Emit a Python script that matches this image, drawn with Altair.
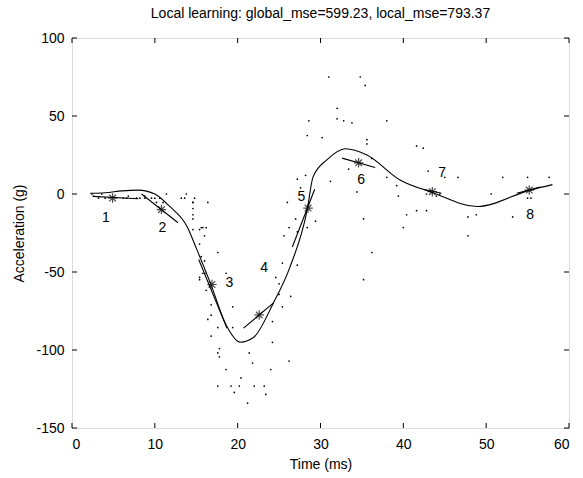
import altair as alt
import pandas as pd

# scatter data (time ms, acceleration g)
times = [2.4,2.6,3.2,3.6,4.0,6.2,6.6,6.8,7.8,8.2,8.8,8.8,9.6,10.0,10.2,10.6,11.0,11.4,13.2,13.6,13.8,14.6,14.6,14.6,14.6,14.6,14.6,14.8,15.4,15.4,15.4,15.4,15.6,15.6,15.8,15.8,16.0,16.0,16.2,16.2,16.2,16.4,16.4,16.6,16.8,16.8,16.8,17.6,17.6,17.6,17.6,17.8,17.8,18.6,18.6,19.2,19.4,19.4,19.6,20.2,20.4,21.2,21.4,21.8,22.0,23.2,23.4,24.0,24.2,24.2,24.6,25.0,25.0,25.4,25.4,25.6,26.0,26.2,26.2,26.4,27.0,27.2,27.2,27.2,27.6,28.2,28.4,28.4,28.6,29.4,30.2,31.0,31.2,32.0,32.0,32.8,33.4,33.8,34.4,34.8,35.2,35.2,35.4,35.6,35.6,36.2,36.2,38.0,38.0,39.2,39.4,40.0,40.4,41.6,41.6,42.4,42.8,42.8,43.0,44.0,44.4,45.0,46.6,47.8,47.8,48.8,50.6,52.0,53.2,55.0,55.0,55.4,57.6]
accel = [0,-1.3,-2.7,0,-2.7,-2.7,-2.7,-1.3,-2.7,-2.7,-1.3,-2.7,-2.7,-2.7,-5.4,-2.7,-5.4,0,-2.7,-2.7,0,-13.3,-5.4,-5.4,-9.3,-16,-22.8,-2.7,-22.8,-32.1,-53.5,-54.9,-40.2,-21.5,-21.5,-50.8,-42.9,-26.8,-21.5,-50.8,-61.7,-5.4,-80.4,-59,-71,-91.1,-77.7,-37.5,-85.6,-123.1,-101.9,-99.1,-104.4,-112.5,-50.8,-123.1,-85.6,-72.3,-127.2,-123.1,-117.9,-134,-101.9,-108.4,-123.1,-123.1,-128.5,-112.5,-95.1,-81.8,-53.5,-64.4,-57.6,-72.3,-44.3,-26.8,-5.4,-107.1,-21.5,-65.6,-16,-45.6,-24.2,9.5,4,12,-21.5,37.5,46.9,-17.4,36.2,75,8.1,54.9,48.2,46.9,16,45.6,1.3,75,-16,-54.9,69.6,34.8,32.1,-37.5,22.8,46.9,10.7,5.4,-1.3,-21.5,-13.3,30.8,-10.7,29.4,0,-10.7,14.7,-1.3,0,10.7,10.7,-26.8,-14.7,-13.3,0,10.7,-14.7,-2.7,10.7,-2.7,10.7]

# global fit curve
curve_t = [2.2, 4, 6, 8, 10, 11.8, 13.9, 15.1, 16.7, 18.7, 20.3, 21.9, 24.3, 26.3, 28.4, 29.1, 30.8, 33, 35.6, 39.6, 43.5, 48.9, 55.3, 58]
curve_y = [0.5, 0.8, 2, 2.5, 0, -8, -21, -36, -57, -85, -95, -92, -70, -47, -10, 11, 22, 29, 25, 9, 1, -8, 2.5, 6]

# local models: centers and segment endpoints
centers_t = [4.9, 10.8, 16.9, 22.6, 28.5, 34.6, 43.5, 55.2]
centers_y = [-2.6, -10, -58, -77.5, -9, 20, 1.5, 2.5]
seg_t0 = [2.5, 8.4, 15.3, 20.7, 26.6, 32.6, 42.4, 53.7]
seg_y0 = [-1.5, 0, -42, -86, -34, 23, 3, 0.5]
seg_t1 = [8.0, 12.8, 18.7, 24.3, 29.3, 36.6, 44.6, 56.5]
seg_y1 = [-3, -18.4, -86, -70, 3, 17, 0.5, 4.5]
label_t = [4.1, 10.9, 19.0, 23.2, 27.7, 34.9, 44.7, 55.3]
label_y = [-15.4, -21.8, -57, -47.4, -1.9, 9, 13.5, -13.5]
labels = ["1", "2", "3", "4", "5", "6", "7", "8"]

x_ticks = [0, 10, 20, 30, 40, 50, 60]
y_ticks = [-150, -100, -50, 0, 50, 100]

W, H = 497, 390
FONT = "Liberation Sans"

xs = alt.Scale(domain=[0, 60], nice=False, zero=False)
ys = alt.Scale(domain=[-150, 100], nice=False, zero=False)

pts = pd.DataFrame({"t": times, "a": accel})
cur = pd.DataFrame({"t": curve_t, "a": curve_y})
segs = pd.DataFrame({
    "t": seg_t0 + seg_t1,
    "a": seg_y0 + seg_y1,
    "id": labels + labels,
})
cen = pd.DataFrame({"t": centers_t, "a": centers_y})
lab = pd.DataFrame({"t": label_t, "a": label_y, "lab": labels})
xt = pd.DataFrame({"v": x_ticks})
yt = pd.DataFrame({"v": y_ticks})

X = alt.X("t:Q", scale=xs, axis=alt.Axis(values=x_ticks, title="Time (ms)", grid=False, ticks=False,
                                          labelFontSize=14, titleFontSize=14, titleFontWeight="normal",
                                          labelFont=FONT, titleFont=FONT, labelColor="black", titleColor="black",
                                          domain=False, labelPadding=9, titlePadding=6))
Y = alt.Y("a:Q", scale=ys, axis=alt.Axis(values=y_ticks, title="Acceleration (g)", grid=False, ticks=False,
                                          labelFontSize=14, titleFontSize=14, titleFontWeight="normal",
                                          labelFont=FONT, titleFont=FONT, labelColor="black", titleColor="black",
                                          labelExpr="replace(datum.label, '\u2212', '-')",
                                          domain=False, labelPadding=8, titlePadding=9))

dots = alt.Chart(pts).mark_circle(size=3, color="black", opacity=1).encode(x=X, y=Y)
gline = alt.Chart(cur).mark_line(color="black", strokeWidth=1.1, interpolate="monotone").encode(
    x=alt.X("t:Q", scale=xs), y=alt.Y("a:Q", scale=ys))
sline = alt.Chart(segs).mark_line(color="black", strokeWidth=1.1).encode(
    x=alt.X("t:Q", scale=xs), y=alt.Y("a:Q", scale=ys), detail="id:N")
star_path = "M-1,0L1,0M0,-1L0,1M-0.7,-0.7L0.7,0.7M-0.7,0.7L0.7,-0.7"
stars = alt.Chart(cen).mark_point(shape=star_path, filled=False, color="black", size=90, strokeWidth=1.2).encode(
    x=alt.X("t:Q", scale=xs), y=alt.Y("a:Q", scale=ys))
texts = alt.Chart(lab).mark_text(font=FONT, fontSize=14, color="black").encode(
    x=alt.X("t:Q", scale=xs), y=alt.Y("a:Q", scale=ys), text="lab:N")

# inward ticks on all four sides
xb = alt.Chart(xt).mark_rule(color="black").encode(x=alt.X("v:Q", scale=xs), y=alt.value(H), y2=alt.value(H - 5))
xtp = alt.Chart(xt).mark_rule(color="black").encode(x=alt.X("v:Q", scale=xs), y=alt.value(0), y2=alt.value(5))
yl = alt.Chart(yt).mark_rule(color="black").encode(y=alt.Y("v:Q", scale=ys), x=alt.value(0), x2=alt.value(5))
yr = alt.Chart(yt).mark_rule(color="black").encode(y=alt.Y("v:Q", scale=ys), x=alt.value(W), x2=alt.value(W - 5))

chart = alt.layer(dots, gline, sline, stars, texts, xb, xtp, yl, yr).properties(
    width=W, height=H,
    title=alt.Title("Local learning: global_mse=599.23, local_mse=793.37", font=FONT, fontSize=14,
                    fontWeight="normal", color="black", offset=10),
    autosize=alt.AutoSizeParams(type="none"),
    padding={"left": 72, "top": 38, "right": 14, "bottom": 50},
).configure_view(stroke="black", strokeWidth=1).configure(background="white")

chart.save("out.html", embed_options={"renderer": "svg", "actions": False})
